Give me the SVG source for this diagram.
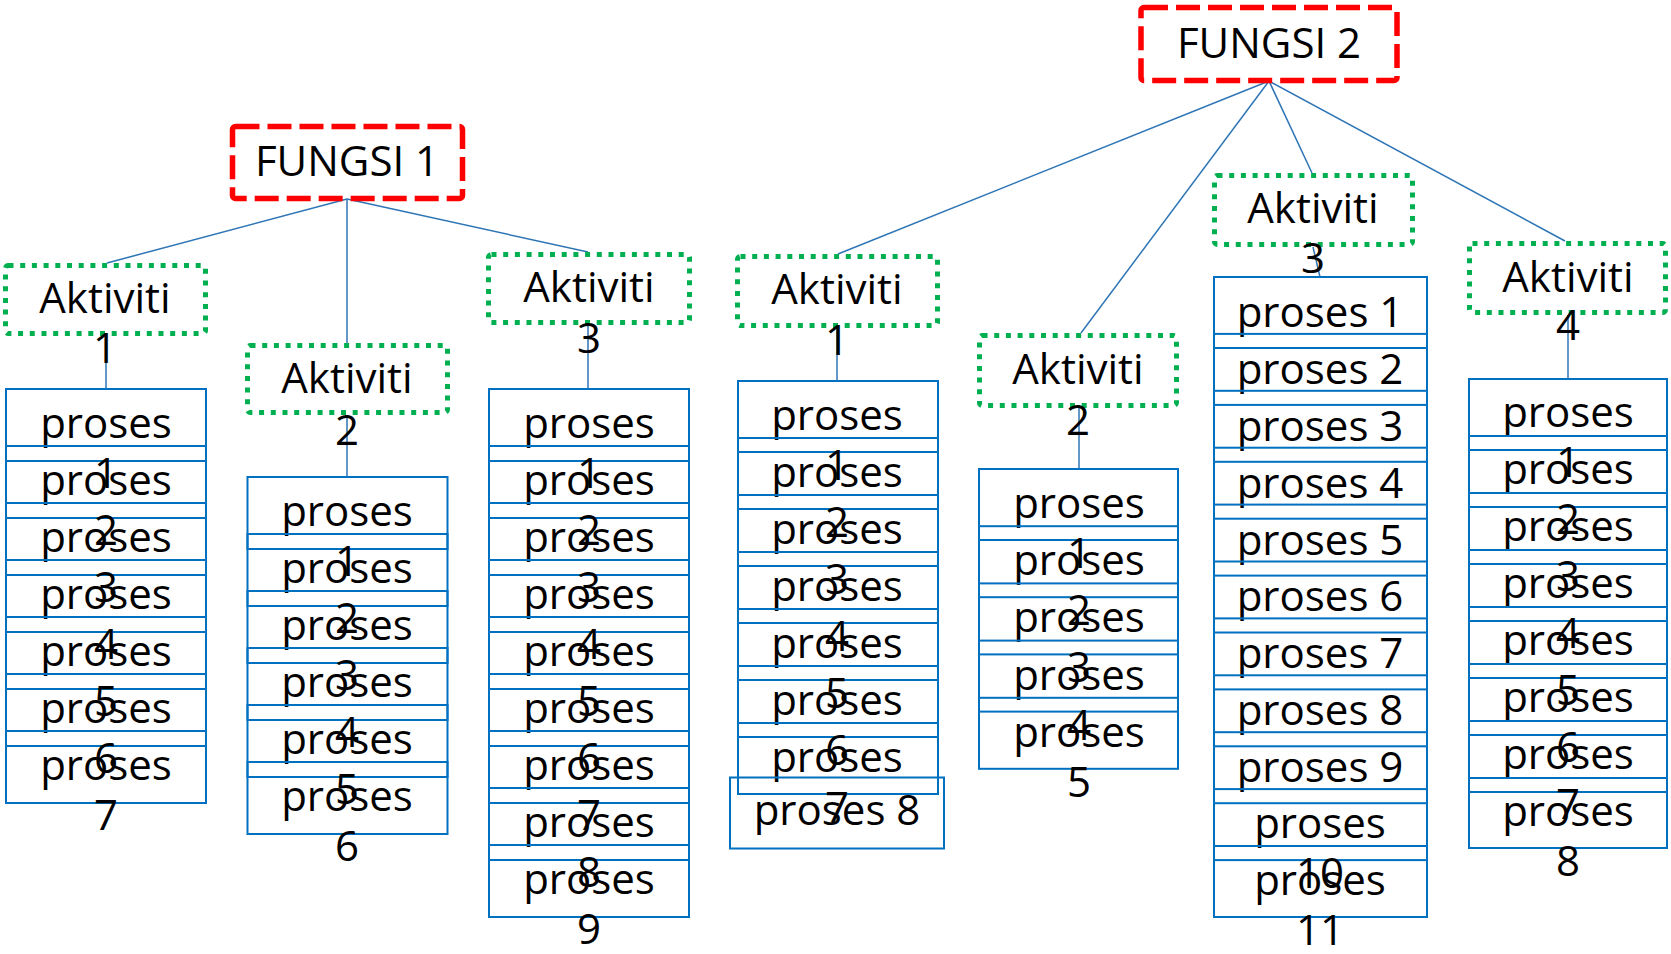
<svg xmlns="http://www.w3.org/2000/svg" width="1671" height="954" viewBox="0 0 1671 954">
<style>
text{font-family:"Open Sans","Noto Sans","Liberation Sans",sans-serif;font-size:42px;fill:#000;text-anchor:middle}
.f{fill:none;stroke:#FF0000;stroke-width:5.5;stroke-dasharray:24 8}
.a{fill:none;stroke:#00B050;stroke-width:5;stroke-dasharray:5 6.7}
.p{fill:none;stroke:#0070C0;stroke-width:2}
.c{fill:none;stroke:#2E75B6;stroke-width:1.5}
</style>
<rect width="1671" height="954" fill="#fff"/>
<g id="connectors">
<line class="c" x1="347" y1="199" x2="107" y2="263"/>
<line class="c" x1="347" y1="199" x2="347" y2="343"/>
<line class="c" x1="347" y1="199" x2="588" y2="252"/>
<line class="c" x1="1269" y1="81" x2="838" y2="254"/>
<line class="c" x1="1269" y1="81" x2="1081" y2="333"/>
<line class="c" x1="1269" y1="81" x2="1312" y2="173"/>
<line class="c" x1="1269" y1="81" x2="1565" y2="241"/>
<line class="c" x1="106" y1="336" x2="106" y2="389"/>
<line class="c" x1="347" y1="415" x2="347" y2="477"/>
<line class="c" x1="588" y1="325" x2="588" y2="389"/>
<line class="c" x1="837" y1="328" x2="837" y2="381"/>
<line class="c" x1="1079" y1="408" x2="1079" y2="469"/>
<line class="c" x1="1313" y1="247" x2="1320" y2="277"/>
<line class="c" x1="1568" y1="315" x2="1568" y2="379"/>
</g>
<g id="fungsi1"><rect class="f" x="232.5" y="126.5" width="230" height="72" rx="3"/><text x="347" y="176">FUNGSI 1</text></g>
<g id="fungsi2"><rect class="f" x="1141" y="7.5" width="256" height="73" rx="3"/><text x="1269" y="58">FUNGSI 2</text></g>
<g id="f1-aktiviti1"><rect class="a" x="5.5" y="265.5" width="200" height="68" rx="3"/><text><tspan x="105" y="313">Aktiviti</tspan><tspan x="105" y="363">1</tspan></text></g>
<g id="f1-aktiviti2"><rect class="a" x="247.5" y="345.5" width="200" height="67" rx="3"/><text><tspan x="347" y="393">Aktiviti</tspan><tspan x="347" y="445">2</tspan></text></g>
<g id="f1-aktiviti3"><rect class="a" x="488.5" y="254.5" width="201" height="68" rx="3"/><text><tspan x="589" y="302">Aktiviti</tspan><tspan x="589" y="353">3</tspan></text></g>
<g id="f2-aktiviti1"><rect class="a" x="737.5" y="256.5" width="200" height="69" rx="3"/><text><tspan x="837" y="304">Aktiviti</tspan><tspan x="837" y="355">1</tspan></text></g>
<g id="f2-aktiviti2"><rect class="a" x="979.5" y="335.5" width="197" height="70" rx="3"/><text><tspan x="1078" y="384">Aktiviti</tspan><tspan x="1078" y="435">2</tspan></text></g>
<g id="f2-aktiviti3"><rect class="a" x="1214.5" y="175.5" width="198" height="69" rx="3"/><text><tspan x="1313" y="223">Aktiviti</tspan><tspan x="1313" y="273">3</tspan></text></g>
<g id="f2-aktiviti4"><rect class="a" x="1469.5" y="243.5" width="196" height="69" rx="3"/><text><tspan x="1568" y="292">Aktiviti</tspan><tspan x="1568" y="340">4</tspan></text></g>
<g id="col1">
<rect class="p" x="6" y="389" width="200" height="72"/><text><tspan x="106" y="438">proses</tspan><tspan x="106" y="488">1</tspan></text>
<rect class="p" x="6" y="446" width="200" height="72"/><text><tspan x="106" y="495">proses</tspan><tspan x="106" y="545">2</tspan></text>
<rect class="p" x="6" y="503" width="200" height="72"/><text><tspan x="106" y="552">proses</tspan><tspan x="106" y="602">3</tspan></text>
<rect class="p" x="6" y="560" width="200" height="72"/><text><tspan x="106" y="609">proses</tspan><tspan x="106" y="659">4</tspan></text>
<rect class="p" x="6" y="617" width="200" height="72"/><text><tspan x="106" y="666">proses</tspan><tspan x="106" y="716">5</tspan></text>
<rect class="p" x="6" y="674" width="200" height="72"/><text><tspan x="106" y="723">proses</tspan><tspan x="106" y="773">6</tspan></text>
<rect class="p" x="6" y="731" width="200" height="72"/><text><tspan x="106" y="780">proses</tspan><tspan x="106" y="830">7</tspan></text>
</g>
<g id="col2">
<rect class="p" x="247.5" y="477" width="200" height="72"/><text><tspan x="347" y="526">proses</tspan><tspan x="347" y="576">1</tspan></text>
<rect class="p" x="247.5" y="534" width="200" height="72"/><text><tspan x="347" y="583">proses</tspan><tspan x="347" y="633">2</tspan></text>
<rect class="p" x="247.5" y="591" width="200" height="72"/><text><tspan x="347" y="640">proses</tspan><tspan x="347" y="690">3</tspan></text>
<rect class="p" x="247.5" y="648" width="200" height="72"/><text><tspan x="347" y="697">proses</tspan><tspan x="347" y="747">4</tspan></text>
<rect class="p" x="247.5" y="705" width="200" height="72"/><text><tspan x="347" y="754">proses</tspan><tspan x="347" y="804">5</tspan></text>
<rect class="p" x="247.5" y="762" width="200" height="72"/><text><tspan x="347" y="811">proses</tspan><tspan x="347" y="861">6</tspan></text>
</g>
<g id="col3">
<rect class="p" x="489" y="389" width="200" height="72"/><text><tspan x="589" y="438">proses</tspan><tspan x="589" y="488">1</tspan></text>
<rect class="p" x="489" y="446" width="200" height="72"/><text><tspan x="589" y="495">proses</tspan><tspan x="589" y="545">2</tspan></text>
<rect class="p" x="489" y="503" width="200" height="72"/><text><tspan x="589" y="552">proses</tspan><tspan x="589" y="602">3</tspan></text>
<rect class="p" x="489" y="560" width="200" height="72"/><text><tspan x="589" y="609">proses</tspan><tspan x="589" y="659">4</tspan></text>
<rect class="p" x="489" y="617" width="200" height="72"/><text><tspan x="589" y="666">proses</tspan><tspan x="589" y="716">5</tspan></text>
<rect class="p" x="489" y="674" width="200" height="72"/><text><tspan x="589" y="723">proses</tspan><tspan x="589" y="773">6</tspan></text>
<rect class="p" x="489" y="731" width="200" height="72"/><text><tspan x="589" y="780">proses</tspan><tspan x="589" y="830">7</tspan></text>
<rect class="p" x="489" y="788" width="200" height="72"/><text><tspan x="589" y="837">proses</tspan><tspan x="589" y="887">8</tspan></text>
<rect class="p" x="489" y="845" width="200" height="72"/><text><tspan x="589" y="894">proses</tspan><tspan x="589" y="944">9</tspan></text>
</g>
<g id="col4">
<rect class="p" x="738" y="381" width="200" height="71"/><text><tspan x="837" y="430">proses</tspan><tspan x="837" y="480">1</tspan></text>
<rect class="p" x="738" y="438" width="200" height="71"/><text><tspan x="837" y="487">proses</tspan><tspan x="837" y="537">2</tspan></text>
<rect class="p" x="738" y="495" width="200" height="71"/><text><tspan x="837" y="544">proses</tspan><tspan x="837" y="594">3</tspan></text>
<rect class="p" x="738" y="552" width="200" height="71"/><text><tspan x="837" y="601">proses</tspan><tspan x="837" y="651">4</tspan></text>
<rect class="p" x="738" y="609" width="200" height="71"/><text><tspan x="837" y="658">proses</tspan><tspan x="837" y="708">5</tspan></text>
<rect class="p" x="738" y="666" width="200" height="71"/><text><tspan x="837" y="715">proses</tspan><tspan x="837" y="765">6</tspan></text>
<rect class="p" x="738" y="723" width="200" height="71"/><text><tspan x="837" y="772">proses</tspan><tspan x="837" y="822">7</tspan></text>
<rect class="p" x="730" y="777.5" width="214" height="71"/><text x="837" y="825">proses 8</text>
</g>
<g id="col5">
<rect class="p" x="979" y="469" width="199" height="71"/><text><tspan x="1079" y="518">proses</tspan><tspan x="1079" y="568">1</tspan></text>
<rect class="p" x="979" y="526.2" width="199" height="71"/><text><tspan x="1079" y="575">proses</tspan><tspan x="1079" y="625">2</tspan></text>
<rect class="p" x="979" y="583.4" width="199" height="71"/><text><tspan x="1079" y="632">proses</tspan><tspan x="1079" y="682">3</tspan></text>
<rect class="p" x="979" y="640.6" width="199" height="71"/><text><tspan x="1079" y="690">proses</tspan><tspan x="1079" y="740">4</tspan></text>
<rect class="p" x="979" y="697.8" width="199" height="71"/><text><tspan x="1079" y="747">proses</tspan><tspan x="1079" y="797">5</tspan></text>
</g>
<g id="col6">
<rect class="p" x="1214" y="277" width="213" height="71"/><text x="1320" y="327">proses 1</text>
<rect class="p" x="1214" y="333.9" width="213" height="71"/><text x="1320" y="384">proses 2</text>
<rect class="p" x="1214" y="390.8" width="213" height="71"/><text x="1320" y="441">proses 3</text>
<rect class="p" x="1214" y="447.7" width="213" height="71"/><text x="1320" y="498">proses 4</text>
<rect class="p" x="1214" y="504.6" width="213" height="71"/><text x="1320" y="555">proses 5</text>
<rect class="p" x="1214" y="561.5" width="213" height="71"/><text x="1320" y="611">proses 6</text>
<rect class="p" x="1214" y="618.4" width="213" height="71"/><text x="1320" y="668">proses 7</text>
<rect class="p" x="1214" y="675.3" width="213" height="71"/><text x="1320" y="725">proses 8</text>
<rect class="p" x="1214" y="732.2" width="213" height="71"/><text x="1320" y="782">proses 9</text>
<rect class="p" x="1214" y="789.1" width="213" height="71"/><text><tspan x="1320" y="838">proses</tspan><tspan x="1320" y="888">10</tspan></text>
<rect class="p" x="1214" y="846" width="213" height="71"/><text><tspan x="1320" y="895">proses</tspan><tspan x="1320" y="945">11</tspan></text>
</g>
<g id="col7">
<rect class="p" x="1469" y="379" width="198" height="71"/><text><tspan x="1568" y="427">proses</tspan><tspan x="1568" y="477">1</tspan></text>
<rect class="p" x="1469" y="436" width="198" height="71"/><text><tspan x="1568" y="484">proses</tspan><tspan x="1568" y="534">2</tspan></text>
<rect class="p" x="1469" y="493" width="198" height="71"/><text><tspan x="1568" y="541">proses</tspan><tspan x="1568" y="591">3</tspan></text>
<rect class="p" x="1469" y="550" width="198" height="71"/><text><tspan x="1568" y="598">proses</tspan><tspan x="1568" y="648">4</tspan></text>
<rect class="p" x="1469" y="607" width="198" height="71"/><text><tspan x="1568" y="655">proses</tspan><tspan x="1568" y="705">5</tspan></text>
<rect class="p" x="1469" y="664" width="198" height="71"/><text><tspan x="1568" y="712">proses</tspan><tspan x="1568" y="762">6</tspan></text>
<rect class="p" x="1469" y="721" width="198" height="71"/><text><tspan x="1568" y="769">proses</tspan><tspan x="1568" y="819">7</tspan></text>
<rect class="p" x="1469" y="778" width="198" height="70"/><text><tspan x="1568" y="826">proses</tspan><tspan x="1568" y="876">8</tspan></text>
</g>
</svg>
